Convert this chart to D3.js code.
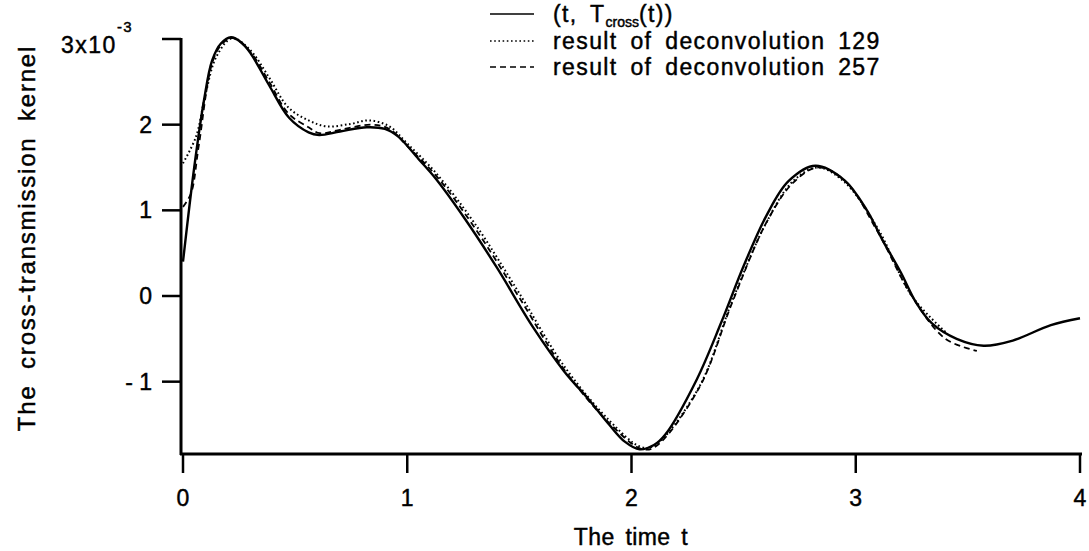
<!DOCTYPE html>
<html>
<head>
<meta charset="utf-8">
<script src="https://cdn.jsdelivr.net/npm/d3@7"></script>
<style>
  body { margin: 0; background: #fff; }
  text { font-family: "Liberation Sans", Arial, sans-serif; fill: #000; stroke: #000; stroke-width: 0.45px; }
</style>
</head>
<body>
<div id="chart"></div>
<script>
// values (kernel in units of 1e-3)
var exactT = [0, 0.05, 0.094, 0.13, 0.17, 0.214, 0.26, 0.3, 0.384, 0.473, 0.56, 0.607, 0.7, 0.82, 0.9, 0.96, 1.05, 1.13, 1.26, 1.4, 1.56, 1.7, 1.81, 1.9, 1.97, 2.036, 2.1, 2.15, 2.29, 2.4, 2.5, 2.6, 2.7, 2.82, 2.95, 3.05, 3.12, 3.2, 3.27, 3.34, 3.45, 3.57, 3.7, 3.87, 4.0];
var exactV = [0.40, 1.50, 2.29, 2.75, 2.95, 3.02, 2.96, 2.84, 2.46, 2.08, 1.91, 1.88, 1.92, 1.97, 1.95, 1.86, 1.60, 1.36, 0.89, 0.33, -0.36, -0.88, -1.21, -1.50, -1.70, -1.79, -1.74, -1.62, -0.98, -0.31, 0.35, 0.93, 1.34, 1.52, 1.35, 1.0, 0.65, 0.28, -0.08, -0.32, -0.50, -0.58, -0.52, -0.34, -0.26];

var dec129T = [0, 0.058, 0.1, 0.15, 0.22, 0.3, 0.384, 0.47, 0.56, 0.64, 0.75, 0.83, 0.92, 1.0, 1.13, 1.3, 1.5, 1.7, 1.9, 2.04, 2.1, 2.3, 2.45, 2.6, 2.72, 2.83, 2.95, 3.1, 3.25, 3.4];
var dec129V = [1.55, 1.86, 2.35, 2.80, 3.01, 2.87, 2.55, 2.20, 2.05, 1.98, 2.01, 2.05, 1.98, 1.78, 1.43, 0.85, 0.03, -0.82, -1.45, -1.76, -1.75, -1.07, -0.05, 0.85, 1.34, 1.50, 1.33, 0.78, 0.0, -0.42];

var dec257T = [0, 0.036, 0.07, 0.13, 0.17, 0.22, 0.3, 0.384, 0.47, 0.56, 0.61, 0.7, 0.84, 0.92, 1.0, 1.13, 1.3, 1.5, 1.7, 1.9, 2.04, 2.1, 2.3, 2.45, 2.6, 2.72, 2.83, 2.95, 3.1, 3.25, 3.4, 3.54];
var dec257V = [1.04, 1.20, 1.75, 2.72, 2.93, 3.01, 2.85, 2.50, 2.13, 1.97, 1.90, 1.94, 2.00, 1.95, 1.75, 1.40, 0.80, -0.02, -0.86, -1.48, -1.78, -1.77, -1.08, -0.07, 0.85, 1.32, 1.50, 1.35, 0.74, 0.0, -0.50, -0.64];

var xTicks = [0, 1, 2, 3, 4];
var yTicks = [-1, 0, 1, 2, 3];
var legendLabels = ["(t, T", "result of deconvolution 129", "result of deconvolution 257"];

var width = 1089, height = 551;
var svg = d3.select("#chart").append("svg")
    .attr("width", width)
    .attr("height", height);

var x = d3.scaleLinear().domain([0, 4]).range([183, 1080]);
var y = d3.scaleLinear().domain([0, 3]).range([296, 39]);

var font = 23;

// axes
var gx = svg.append("g").attr("transform", "translate(0,454)");
gx.append("line").attr("x1", 180).attr("x2", 1082).attr("y1", 0).attr("y2", 0)
    .attr("stroke", "#000").attr("stroke-width", 3);
gx.selectAll(".xt").data(xTicks).enter().append("line")
    .attr("x1", function(d) { return x(d); }).attr("x2", function(d) { return x(d); })
    .attr("y1", 0).attr("y2", 19)
    .attr("stroke", "#000").attr("stroke-width", 2.5);
gx.selectAll(".xl").data(xTicks).enter().append("text")
    .attr("x", function(d) { return x(d); })
    .attr("y", 52)
    .attr("text-anchor", "middle")
    .style("font-size", font + "px")
    .text(function(d) { return d; });

var gy = svg.append("g").attr("transform", "translate(181,0)");
gy.append("line").attr("x1", 0).attr("x2", 0).attr("y1", 38).attr("y2", 455)
    .attr("stroke", "#000").attr("stroke-width", 3);
gy.selectAll(".yt").data(yTicks).enter().append("line")
    .attr("x1", -19).attr("x2", 0)
    .attr("y1", function(d) { return y(d); }).attr("y2", function(d) { return y(d); })
    .attr("stroke", "#000").attr("stroke-width", 2.5);
gy.selectAll(".yl").data(yTicks.filter(function(d) { return d < 3; })).enter().append("text")
    .attr("x", -29)
    .attr("y", function(d) { return y(d) + 8; })
    .attr("text-anchor", "end")
    .style("font-size", font + "px")
    .text(function(d) { return d < 0 ? "- " + Math.abs(d) : d; });
var top3 = gy.append("text")
    .attr("x", -120).attr("y", y(3) + 14)
    .style("font-size", font + "px")
    .style("letter-spacing", "1.5px");
top3.append("tspan").text("3x10");
top3.append("tspan").attr("dy", -21).style("font-size", "15px").text("-3");

// axis titles
svg.append("text")
    .attr("x", 631).attr("y", 545)
    .attr("text-anchor", "middle")
    .style("font-size", font + "px")
    .style("letter-spacing", "0.4px")
    .style("word-spacing", "4px")
    .text("The time t");
svg.append("text")
    .attr("transform", "translate(35,238) rotate(-90)")
    .attr("text-anchor", "middle")
    .style("font-size", "24px")
    .style("letter-spacing", "1.8px")
    .style("word-spacing", "7px")
    .text("The cross-transmission kernel");

// curves
var line = d3.line()
    .x(function(d) { return x(d[0]); })
    .y(function(d) { return y(d[1]); })
    .curve(d3.curveCatmullRom.alpha(0.5));

var styles = [
    { t: exactT, v: exactV, dash: null, w: 2.4 },
    { t: dec129T, v: dec129V, dash: "1.6,2.6", w: 2 },
    { t: dec257T, v: dec257V, dash: "6,4", w: 1.8 }
];

styles.forEach(function(s) {
    svg.append("path")
        .datum(d3.zip(s.t, s.v))
        .attr("d", line)
        .attr("fill", "none")
        .attr("stroke", "#000")
        .attr("stroke-width", s.w)
        .attr("stroke-dasharray", s.dash);
});

// legend
var rows = [14, 41, 67];
styles.forEach(function(s, i) {
    svg.append("line")
        .attr("x1", 490).attr("x2", 534)
        .attr("y1", rows[i]).attr("y2", rows[i])
        .attr("stroke", "#000")
        .attr("stroke-width", i == 0 ? 1.5 : 1.6)
        .attr("stroke-dasharray", s.dash);
    var t = svg.append("text")
        .attr("x", 553).attr("y", rows[i] + 8)
        .style("font-size", font + "px")
        .style("letter-spacing", "1.4px")
        .style("word-spacing", "5px");
    if (i == 0) {
        t.append("tspan").text("(t,  T");
        t.append("tspan").attr("dy", 5).style("font-size", "14px").style("letter-spacing", "0px").text("cross");
        t.append("tspan").attr("dy", -5).text("(t))");
    } else {
        t.text(legendLabels[i]);
    }
});
</script>
</body>
</html>
